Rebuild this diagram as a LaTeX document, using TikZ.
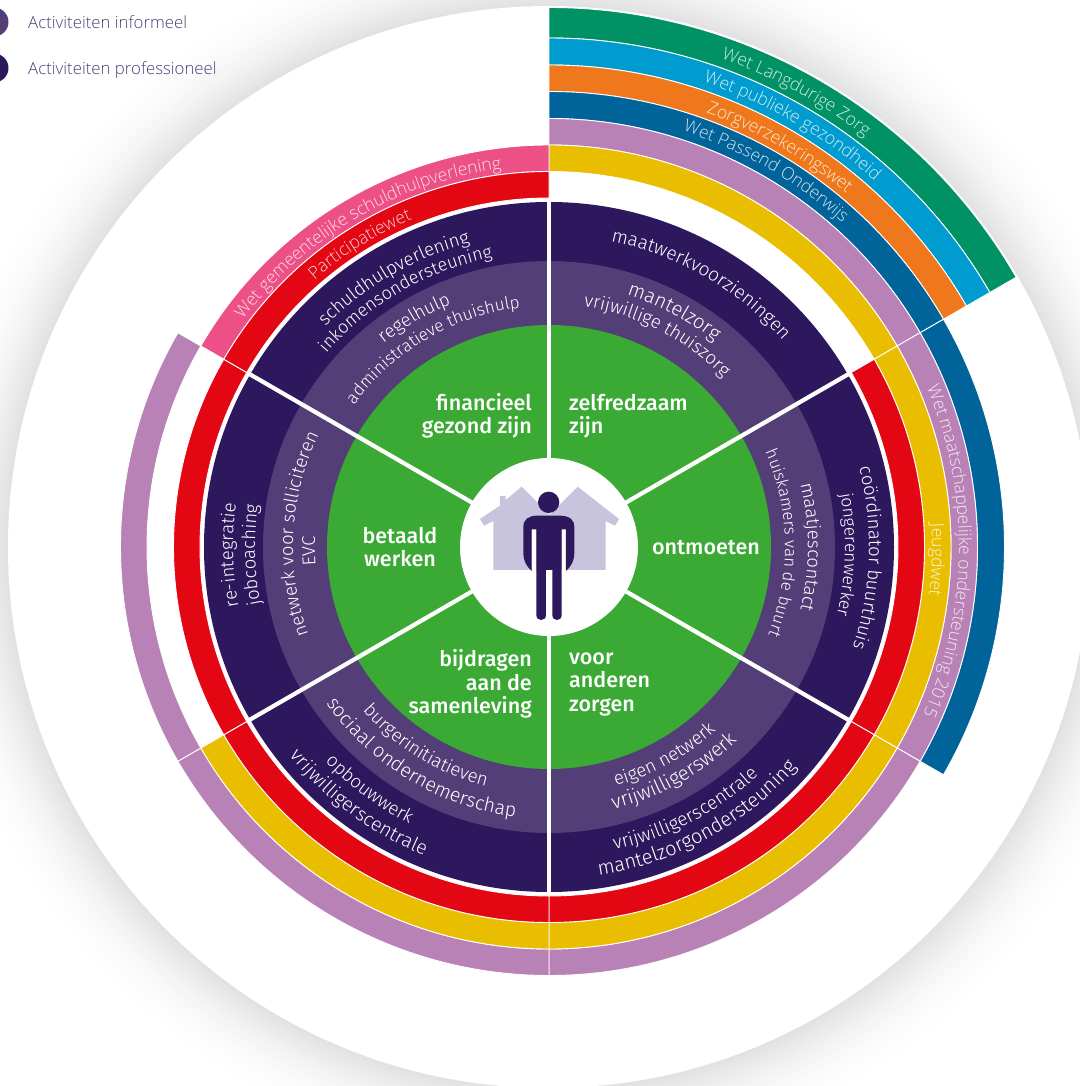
\documentclass[tikz,border=0pt]{standalone}
\usepackage{fontspec}
\usetikzlibrary{decorations.text}
\setmainfont{Fira Sans}
\newfontfamily\actfont{Fira Sans Light}
\newfontfamily\lawfont{Open Sans Light}
\newfontfamily\boldfont{Fira Sans Medium}
\definecolor{cgreen}{HTML}{3AAA35}
\definecolor{cinformal}{HTML}{533E78}
\definecolor{cdark}{HTML}{2D185E}
\definecolor{cred}{HTML}{E30613}
\definecolor{cyellow}{HTML}{E9BE00}
\definecolor{cpink}{HTML}{B982B6}
\definecolor{cblue}{HTML}{00639A}
\definecolor{corange}{HTML}{F0781C}
\definecolor{clight}{HTML}{009CCF}
\definecolor{claw}{HTML}{009265}
\definecolor{crose}{HTML}{EC5086}
\definecolor{chouse}{HTML}{C9C4DD}
\tikzset{
  ringpart/.style={draw=white,line width=0.9pt},
  divider/.style={draw=white,line width=4.2pt},
  mainlabel/.style={text=white,font=\boldfont\fontsize{21.5}{23.5}\selectfont,inner sep=0pt},
  legendlabel/.style={text=cinformal,font=\lawfont\fontsize{16.8}{18}\selectfont,inner sep=0pt,anchor=base west},
}
% r1 r2 a1 a2 colour
\newcommand{\ringsec}[5]{\path[ringpart,fill=#5] (#3:#1) arc[start angle=#3,end angle=#4,radius=#1] -- (#4:#2) arc[start angle=#4,end angle=#3,radius=#2] -- cycle;}
% clockwise text: font/colour, radius, centre angle, half-span, text
\newcommand{\cwtext}[5]{\path[decorate,decoration={text along path,text align=center,text={|#1|#5}}] ({#3+#4}:#2) arc[start angle={#3+#4},end angle={#3-#4},radius=#2];}
\newcommand{\ccwtext}[5]{\path[decorate,decoration={text along path,text align=center,text={|#1|#5}}] ({#3-#4}:#2) arc[start angle={#3-#4},end angle={#3+#4},radius=#2];}
\newcommand{\actf}[1]{\actfont\fontsize{#1}{19}\selectfont\color{white}}
\newcommand{\lawf}[1]{\lawfont\fontsize{17.5}{18}\selectfont\color{white!82!#1}}
\begin{document}
\begin{tikzpicture}[x=1pt,y=1pt]
\useasboundingbox (-549,-539) rectangle (530,547);
\fill[white] (-549,-539) rectangle (530,547);
% soft shadow round the disc
\foreach \i in {40,39,...,1}{
  \pgfmathsetmacro{\rr}{541+2*\i}
  \pgfmathsetmacro{\pp}{12*(1-\i/41)*(1-\i/41)}
  \fill[black!\pp!white] (0,0) circle[radius=\rr];
}
\fill[white] (0,0) circle[radius=541];
% legend
\fill[cinformal] (-555,525) circle[radius=14.5];
\fill[cdark] (-555,479) circle[radius=14.5];
\node[legendlabel] (leg1) at (-521,518.5) {Activiteiten informeel};
\node[legendlabel] (leg2) at (-521,472.5) {Activiteiten professioneel};
% law rings
\ringsec{509}{539.5}{30}{90}{claw}
\ringsec{482}{509}{30}{90}{clight}
\ringsec{455.5}{482}{30}{90}{corange}
\ringsec{428.5}{455.5}{30}{90}{cblue}
\ringsec{428.5}{455.5}{-30}{30}{cblue}
\ringsec{402}{428.5}{30}{90}{cpink}
\ringsec{402}{428.5}{-30}{30}{cpink}
\ringsec{402}{428.5}{-90}{-30}{cpink}
\ringsec{402}{428.5}{-150}{-90}{cpink}
\ringsec{402}{428.5}{150}{210}{cpink}
\ringsec{375.5}{402}{30}{90}{cyellow}
\ringsec{375.5}{402}{-30}{30}{cyellow}
\ringsec{375.5}{402}{-90}{-30}{cyellow}
\ringsec{375.5}{402}{-150}{-90}{cyellow}
\ringsec{375.5}{402}{90}{150}{crose}
\ringsec{349}{375.5}{-30}{30}{cred}
\ringsec{349}{375.5}{-90}{-30}{cred}
\ringsec{349}{375.5}{-150}{-90}{cred}
\ringsec{349}{375.5}{150}{210}{cred}
\ringsec{349}{375.5}{90}{150}{cred}
% core rings
\fill[cdark] (0,0) circle[radius=345];
\fill[cinformal] (0,0) circle[radius=286];
\fill[cgreen] (0,0) circle[radius=222];
\foreach \a in {90,30,-30,-90,-150,150}{
  \draw[divider] (0,0) -- (\a:347);
}
\fill[white] (0,0) circle[radius=89];
% house and person, in zoomed units
\begin{scope}[shift={(-109,107)},x=0.33333pt,y=-0.33333pt]
\fill[chouse] (160,390) -- (497,390) -- (497,243) -- (525,257) -- (537,237) -- (413,140) -- (329,224) -- (245,140) -- (197,180) -- (197,168) -- (180,168) -- (180,197) -- (120,237) -- (132,257) -- (160,243) -- cycle;
\fill[white] (275,262) rectangle (289,393);
\fill[white] (365,262) rectangle (378,393);
\fill[cdark] (326,187) circle[radius=32];
\fill[cdark] (289,268) -- (275,268) -- (275,393) .. controls (258,378) and (250,360) .. (250,340) -- (250,262) .. controls (250,238) and (265,228) .. (290,227) -- (362,227) .. controls (390,228) and (403,240) .. (403,262) -- (403,340) .. controls (403,360) and (395,378) .. (378,393) -- (378,268) -- (365,268) -- (365,525) .. controls (365,545) and (337,545) .. (337,525) -- (337,390) -- (318,390) -- (318,525) .. controls (318,545) and (289,545) .. (289,525) -- cycle;
\end{scope}
% main labels
\node[mainlabel,align=right,anchor=east] (fin) at (-17,131) {financieel\\gezond zijn};
\node[mainlabel,align=left,anchor=west] (zelf) at (20,131) {zelfredzaam\\zijn};
\node[mainlabel,align=center] (bet) at (-149,0) {betaald\\werken};
\node[mainlabel] (ont) at (157,-1) {ontmoeten};
\node[mainlabel,align=left,anchor=west] (voor) at (20,-137) {voor\\anderen\\zorgen};
\node[mainlabel,align=right,anchor=east] (bij) at (-17,-137) {bijdragen\\aan de\\samenleving};
% activities
\cwtext{\actf{19}}{312}{60}{29}{maatwerkvoorzieningen}
\cwtext{\actf{20}}{264}{62}{29}{mantelzorg}
\cwtext{\actf{18.5}}{243}{63}{29}{vrijwillige thuiszorg}
\cwtext{\actf{18.5}}{314}{120}{29}{schuldhulpverlening}
\cwtext{\actf{18}}{295}{120}{29}{inkomensondersteuning}
\cwtext{\actf{18.5}}{262}{120.5}{29}{regelhulp}
\cwtext{\actf{17.2}}{241}{120.4}{29}{administratieve thuishulp}
\cwtext{\actf{18.5}}{320}{-2}{29}{coördinator buurthuis}
\cwtext{\actf{17.5}}{296}{-1.5}{29}{jongerenwerker}
\cwtext{\actf{18.5}}{259}{0}{29}{maatjescontact}
\cwtext{\actf{16.8}}{236}{1}{29}{huiskamers van de buurt}
\cwtext{\actf{18.5}}{316}{181.5}{29}{re-integratie}
\cwtext{\actf{18.5}}{294}{181.5}{29}{jobcoaching}
\cwtext{\actf{18.5}}{256}{177}{29}{netwerk voor solliciteren}
\cwtext{\actf{18.5}}{234}{181}{29}{EVC}
\ccwtext{\actf{18.5}}{248}{-61}{29}{eigen netwerk}
\ccwtext{\actf{20}}{270}{-61}{29}{vrijwilligerswerk}
\ccwtext{\actf{18.8}}{310}{-62.6}{29}{vrijwilligerscentrale}
\ccwtext{\actf{20}}{332}{-61.5}{29}{mantelzorgondersteuning}
\ccwtext{\actf{18.5}}{248}{238.3}{29}{burgerinitiatieven}
\ccwtext{\actf{19.6}}{272}{239}{29}{sociaal ondernemerschap}
\ccwtext{\actf{18.5}}{310}{233.5}{29}{opbouwwerk}
\ccwtext{\actf{19.4}}{333}{233.4}{29}{vrijwilligerscentrale}
% laws
\cwtext{\lawf{claw}}{518}{61.5}{29}{Wet Langdurige Zorg}
\cwtext{\lawf{clight}}{490}{60}{29}{Wet publieke gezondheid}
\cwtext{\lawf{corange}}{462}{60}{29}{Zorgverzekeringswet}
\cwtext{\lawf{cblue}}{437}{60}{29}{Wet Passend Onderwijs}
\cwtext{\lawf{cpink}}{410}{-0.6}{29}{Wet maatschappelijke ondersteuning 2015}
\cwtext{\lawf{cyellow}}{383}{-1.9}{29}{Jeugdwet}
\cwtext{\lawf{cred}}{355}{122}{29}{Participatiewet}
\cwtext{\lawf{crose}}{381}{120.3}{29}{Wet gemeentelijke schuldhulpverlening}
\end{tikzpicture}
\end{document}
